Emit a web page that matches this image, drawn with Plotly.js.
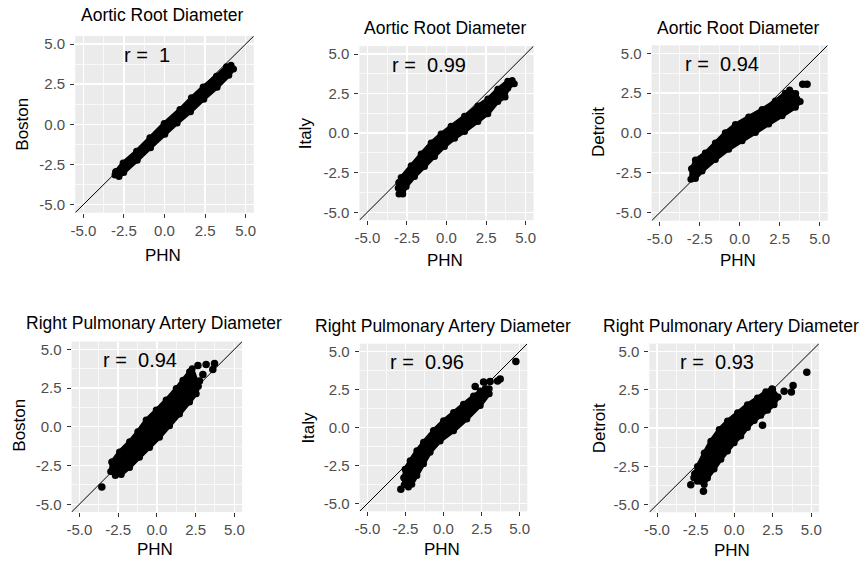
<!DOCTYPE html>
<html><head><meta charset="utf-8">
<script src="https://cdn.plot.ly/plotly-3.0.1.min.js"></script>
<style>html,body{margin:0;padding:0;background:#fff}#chart{width:865px;height:566px}</style>
</head><body><div id="chart"></div>
<script>
// ---------- text ----------
const panelTitles = ['Aortic Root Diameter','Aortic Root Diameter','Aortic Root Diameter',
  'Right Pulmonary Artery Diameter','Right Pulmonary Artery Diameter','Right Pulmonary Artery Diameter'];
const yTitles = ['Boston','Italy','Detroit','Boston','Italy','Detroit'];
const xTitle = 'PHN';
const rValues = ['1','0.99','0.94','0.94','0.96','0.93'];
const tickVals = [-5, -2.5, 0, 2.5, 5];
const tickLabels = ['-5.0','-2.5','0.0','2.5','5.0'];
const axisLimits = [-5.5, 5.5];
const rLabelPos = [-1.1, 4.3];

// ---------- data: outline of the dense point cloud + isolated points ----------
// Panel 1: Aortic Root, Boston vs PHN
const edge1X = [-3.00,-2.55,-1.72,-0.90,-0.02,0.95,1.66,2.38,3.20,3.82,4.10, 4.25,3.96,3.24,2.42,1.60,0.78,0.02,-0.86,-1.68,-2.51,-2.80,-3.05];
const edge1Y = [-2.95,-2.40,-1.67,-0.84,0.05,0.92,1.65,2.33,3.00,3.58,3.68, 3.44,3.05,2.31,1.57,0.78,0.08,-0.62,-1.45,-2.24,-3.00,-3.25,-3.15];
const out1X = [];
const out1Y = [];
// Panel 2: Aortic Root, Italy vs PHN
const edge2X = [-3.00,-2.86,-2.23,-1.60,-0.97,-0.34,0.29,1.14,1.98,2.61,3.24,3.87,4.15, 4.28,3.87,3.70,3.24,2.61,1.98,1.14,0.51,-0.13,-0.76,-1.39,-2.02,-2.55,-2.76,-3.00,-3.05];
const edge2Y = [-3.12,-2.80,-2.06,-1.32,-0.62,-0.06,0.43,1.06,1.72,2.15,2.78,3.28,3.33, 3.12,2.84,2.28,2.00,1.22,0.74,0.11,-0.32,-0.84,-1.47,-2.11,-2.74,-3.37,-3.85,-3.85,-3.47];
const out2X = [];
const out2Y = [];
// Panel 3: Aortic Root, Detroit vs PHN
const edge3X = [-3.00,-2.77,-2.15,-1.52,-0.90,-0.27,0.56,1.40,2.23,2.85,3.12,3.50, 3.78,3.48,2.65,1.81,0.98,0.15,-0.69,-1.52,-2.35,-2.77,-3.05];
const edge3Y = [-2.24,-1.70,-1.26,-0.62,0.01,0.53,1.01,1.47,2.00,2.50,2.70,2.47, 1.98,1.62,1.08,0.56,0.03,-0.49,-1.02,-1.66,-2.38,-2.85,-2.90];
const out3X = [3.94, 4.21];
const out3Y = [3.05, 3.05];
// Panel 4: Right Pulmonary Artery, Boston vs PHN
const edge4X = [-2.90,-2.41,-1.76,-1.23,-0.69,-0.04,0.60,1.25,1.68,2.11,2.28, 2.68,2.54,2.11,1.46,0.82,0.17,-0.47,-1.12,-1.76,-2.30,-2.68,-2.98];
const edge4Y = [-2.28,-1.62,-0.96,-0.32,0.44,1.08,1.73,2.47,3.00,3.55,3.75, 2.62,2.14,1.60,0.82,0.07,-0.68,-1.33,-1.97,-2.62,-3.08,-3.15,-2.88];
const out4X = [-3.55, 2.65, 3.18, 3.72, 3.61, 2.97, 2.75];
const out4Y = [-3.89, 3.96, 4.02, 4.09, 3.70, 3.38, 2.95];
// Panel 5: Right Pulmonary Artery, Italy vs PHN
const edge5X = [-2.60,-2.52,-2.19,-1.75,-1.31,-0.66,0.00,0.66,1.31,1.97,2.41,2.74, 3.00,3.00,2.41,1.53,0.66,-0.22,-0.88,-1.31,-1.75,-2.08,-2.30,-2.58];
const edge5Y = [-3.30,-2.74,-2.18,-1.52,-0.97,-0.20,0.44,0.99,1.53,2.07,2.39,2.56, 2.55,2.22,1.45,0.55,-0.22,-0.88,-1.62,-2.38,-3.15,-3.72,-3.90,-3.75];
const out5X = [-2.80, 4.75, 3.72, 3.55, 3.06, 2.63, 2.08];
const out5Y = [-4.05, 4.33, 3.19, 3.06, 3.02, 2.98, 2.69];
// Panel 6: Right Pulmonary Artery, Detroit vs PHN
const edge6X = [-2.55,-2.38,-1.94,-1.51,-0.97,-0.43,0.22,0.86,1.51,2.05,2.45, 2.85,2.59,2.16,1.73,1.30,0.86,0.43,0.00,-0.43,-0.86,-1.30,-1.73,-1.94,-2.38,-2.62];
const edge6Y = [-2.98,-2.52,-1.64,-0.86,-0.10,0.45,0.99,1.52,1.95,2.36,2.55, 2.02,1.52,1.16,0.82,0.48,0.03,-0.53,-0.96,-1.50,-2.04,-2.68,-3.26,-3.68,-3.48,-3.25];
const out6X = [-2.81, -1.99, 4.71, 3.82, 3.71, 3.24, 2.48, 1.84];
const out6Y = [-3.70, -4.13, 3.63, 2.76, 2.35, 2.39, 2.50, 0.17];

const edgesX = [edge1X, edge2X, edge3X, edge4X, edge5X, edge6X];
const edgesY = [edge1Y, edge2Y, edge3Y, edge4Y, edge5Y, edge6Y];
const outsX = [out1X, out2X, out3X, out4X, out5X, out6X];
const outsY = [out1Y, out2Y, out3Y, out4Y, out5Y, out6Y];

// ---------- layout geometry (pixels) ----------
const W = 865, H = 566;
const boxes = [ // left, right, top, bottom
  [75.2, 253.8, 36.0, 212.7],
  [359.4, 533.6, 46.1, 220.2],
  [651.7, 827.7, 45.3, 220.7],
  [71.6, 242.1, 341.6, 512.0],
  [359.7, 527.3, 343.7, 511.3],
  [649.3, 819.0, 343.6, 512.3]
];
const titlePos = [[162.5,15.5],[445,27.5],[738.3,27.5],[154.2,323.3],[442.5,325.7],[730.8,325.7]];
const xTitlePos = [[163,255],[445,260.7],[737.5,260.7],[155,549],[442.3,549],[732.3,550.7]];
const yTitlePos = [[21.7,124],[305,133.3],[598.3,131.7],[20,425.7],[308.3,427.3],[599,428.3]];
const px = x => x / W, py = y => 1 - y / H;

const FONT = 'Liberation Sans, Arial, sans-serif';
const traces = [], annotations = [];
const layout = {
  width: W, height: H, margin: {l:0, r:0, t:0, b:0},
  paper_bgcolor: '#ffffff', plot_bgcolor: '#EBEBEB',
  showlegend: false, font: {family: FONT, color: '#000'}
};

for (let i = 0; i < 6; i++) {
  const s = i === 0 ? '' : String(i + 1);
  const xa = 'x' + s, ya = 'y' + s;
  const b = boxes[i];
  const axisCommon = {
    range: axisLimits, tickmode: 'array', tickvals: tickVals, ticktext: tickLabels,
    showgrid: true, gridcolor: '#FFFFFF', gridwidth: 1.4, zeroline: false,
    ticks: 'outside', ticklen: 4, tickwidth: 1, tickcolor: '#333333',
    tickfont: {family: FONT, size: 15, color: '#4D4D4D'},
    showline: false, fixedrange: true,
    minor: {tickmode: 'linear', tick0: -5, dtick: 1.25, showgrid: true, gridcolor: '#FFFFFF', gridwidth: 0.7, ticks: ''}
  };
  layout['xaxis' + s] = Object.assign({}, axisCommon, {domain: [px(b[0]), px(b[1])], anchor: ya});
  layout['yaxis' + s] = Object.assign({}, axisCommon, {domain: [py(b[3]), py(b[2])], anchor: xa, ticklabelstandoff: 2});

  // y = x reference line
  traces.push({type: 'scatter', mode: 'lines', x: axisLimits, y: axisLimits, xaxis: xa, yaxis: ya,
    line: {color: '#000000', width: 1}, hoverinfo: 'skip', cliponaxis: true});
  // dense cloud
  traces.push({type: 'scatter', mode: 'lines+markers', x: edgesX[i].concat([edgesX[i][0]]), y: edgesY[i].concat([edgesY[i][0]]),
    xaxis: xa, yaxis: ya, fill: 'toself', fillcolor: '#000000',
    line: {color: '#000000', width: 4, simplify: false}, marker: {color: '#000000', size: 7}});
  // isolated points
  traces.push({type: 'scatter', mode: 'markers', x: outsX[i], y: outsY[i], xaxis: xa, yaxis: ya,
    marker: {color: '#000000', size: 7.5}});

  annotations.push({xref: 'paper', yref: 'paper', x: px(titlePos[i][0]), y: py(titlePos[i][1]),
    xanchor: 'center', yanchor: 'middle', showarrow: false, text: panelTitles[i],
    font: {family: FONT, size: 17.5, color: '#000'}});
  annotations.push({xref: 'paper', yref: 'paper', x: px(xTitlePos[i][0]), y: py(xTitlePos[i][1]),
    xanchor: 'center', yanchor: 'middle', showarrow: false, text: xTitle,
    font: {family: FONT, size: 17, color: '#000'}});
  annotations.push({xref: 'paper', yref: 'paper', x: px(yTitlePos[i][0]), y: py(yTitlePos[i][1]),
    xanchor: 'center', yanchor: 'middle', showarrow: false, text: yTitles[i], textangle: -90,
    font: {family: FONT, size: 17, color: '#000'}});
  annotations.push({xref: xa, yref: ya, x: rLabelPos[0], y: rLabelPos[1],
    xanchor: 'center', yanchor: 'middle', showarrow: false, text: 'r =  ' + rValues[i],
    font: {family: FONT, size: 20, color: '#000'}});
}
layout.annotations = annotations;
Plotly.newPlot('chart', traces, layout, {staticPlot: true, displayModeBar: false});
</script></body></html>
